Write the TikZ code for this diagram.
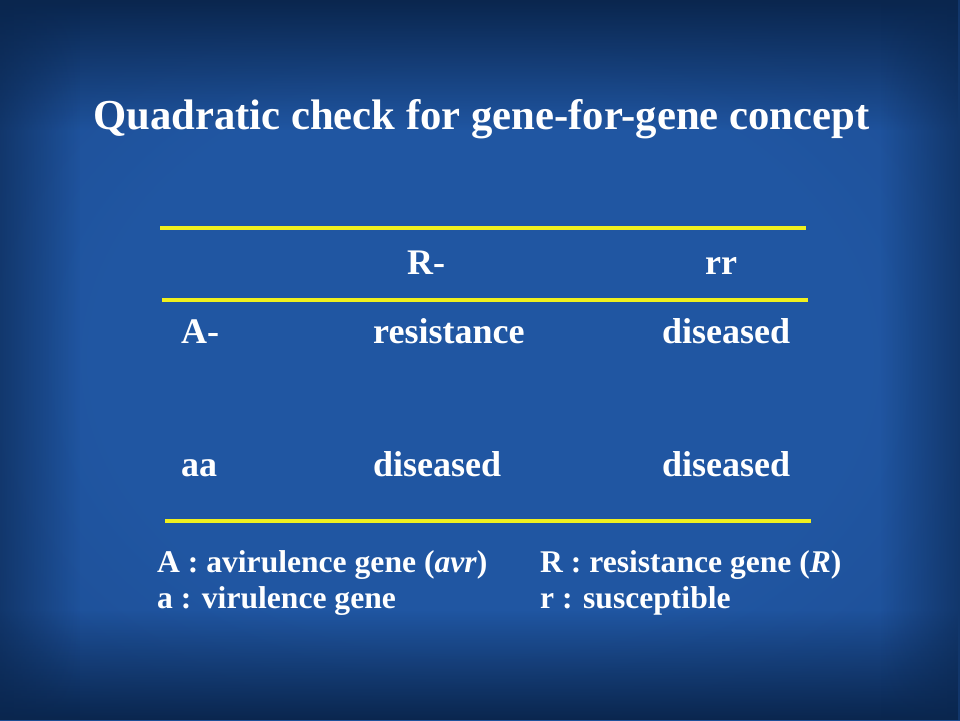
\documentclass[tikz,border=0pt]{standalone}
\usepackage{fontspec}
\setmainfont{Liberation Serif}
\usetikzlibrary{fadings}
\definecolor{bgA}{RGB}{32,86,162}
\definecolor{bgB}{RGB}{28,76,146}
\definecolor{bgC}{RGB}{14,46,92}
\definecolor{bgD}{RGB}{10,38,78}
\definecolor{ylw}{RGB}{240,240,30}
\pgfdeclareradialshading{bgshade}{\pgfpoint{0bp}{0bp}}{color(0bp)=(bgA); color(20bp)=(bgA); color(36bp)=(bgB); color(50bp)=(bgC)}
\tikzset{
  txt/.style={anchor=base west, inner sep=0pt, text=white, font=\bfseries\fontsize{36}{42}\selectfont},
  ttl/.style={anchor=base west, inner sep=0pt, text=white, font=\bfseries\fontsize{42.7}{50}\selectfont},
  leg/.style={anchor=base west, inner sep=0pt, text=white, font=\bfseries\fontsize{31.6}{36}\selectfont},
  yline/.style={draw=ylw, line width=3.5pt}
}
\begin{document}
\begin{tikzpicture}[x=1pt,y=-1pt]
\useasboundingbox (0,0) rectangle (960,720);
\shade[shading=bgshade] (0,0) rectangle (960,720);
\fill[bgD, path fading=south] (0,0) rectangle (960,130);
\fill[bgD, path fading=north] (0,610) rectangle (960,720);
\fill[bgD, path fading=west, opacity=0.6] (880,0) rectangle (960,720);
\fill[bgD, path fading=east, opacity=0.6] (0,0) rectangle (80,720);
\node[ttl] (title) at (93,129) {Quadratic check for gene-for-gene concept};
\coordinate (l1a) at (160,228); \coordinate (l1b) at (806,228);
\coordinate (l2a) at (162,300); \coordinate (l2b) at (808,300);
\coordinate (l3a) at (165,521); \coordinate (l3b) at (811,521);
\draw[yline] (l1a) -- (l1b);
\draw[yline] (l2a) -- (l2b);
\draw[yline] (l3a) -- (l3b);
\node[txt] (hR) at (407,274) {R-};
\node[txt] (hr) at (705,274) {rr};
\node[txt] (rA) at (181,343) {A-};
\node[txt] (c11) at (373,343) {resistance};
\node[txt] (c12) at (662,343) {diseased};
\node[txt] (ra) at (181,476) {aa};
\node[txt] (c21) at (373,476) {diseased};
\node[txt] (c22) at (662,476) {diseased};
\node[leg] (g1) at (157,572) {A : avirulence gene (\textit{avr})};
\node[leg] (g2) at (540,572) {R : resistance gene (\textit{R})};
\node[leg] (g3) at (157,608) {a : virulence gene};
\node[leg] (g4) at (540,608) {r : susceptible};
\end{tikzpicture}
\end{document}
